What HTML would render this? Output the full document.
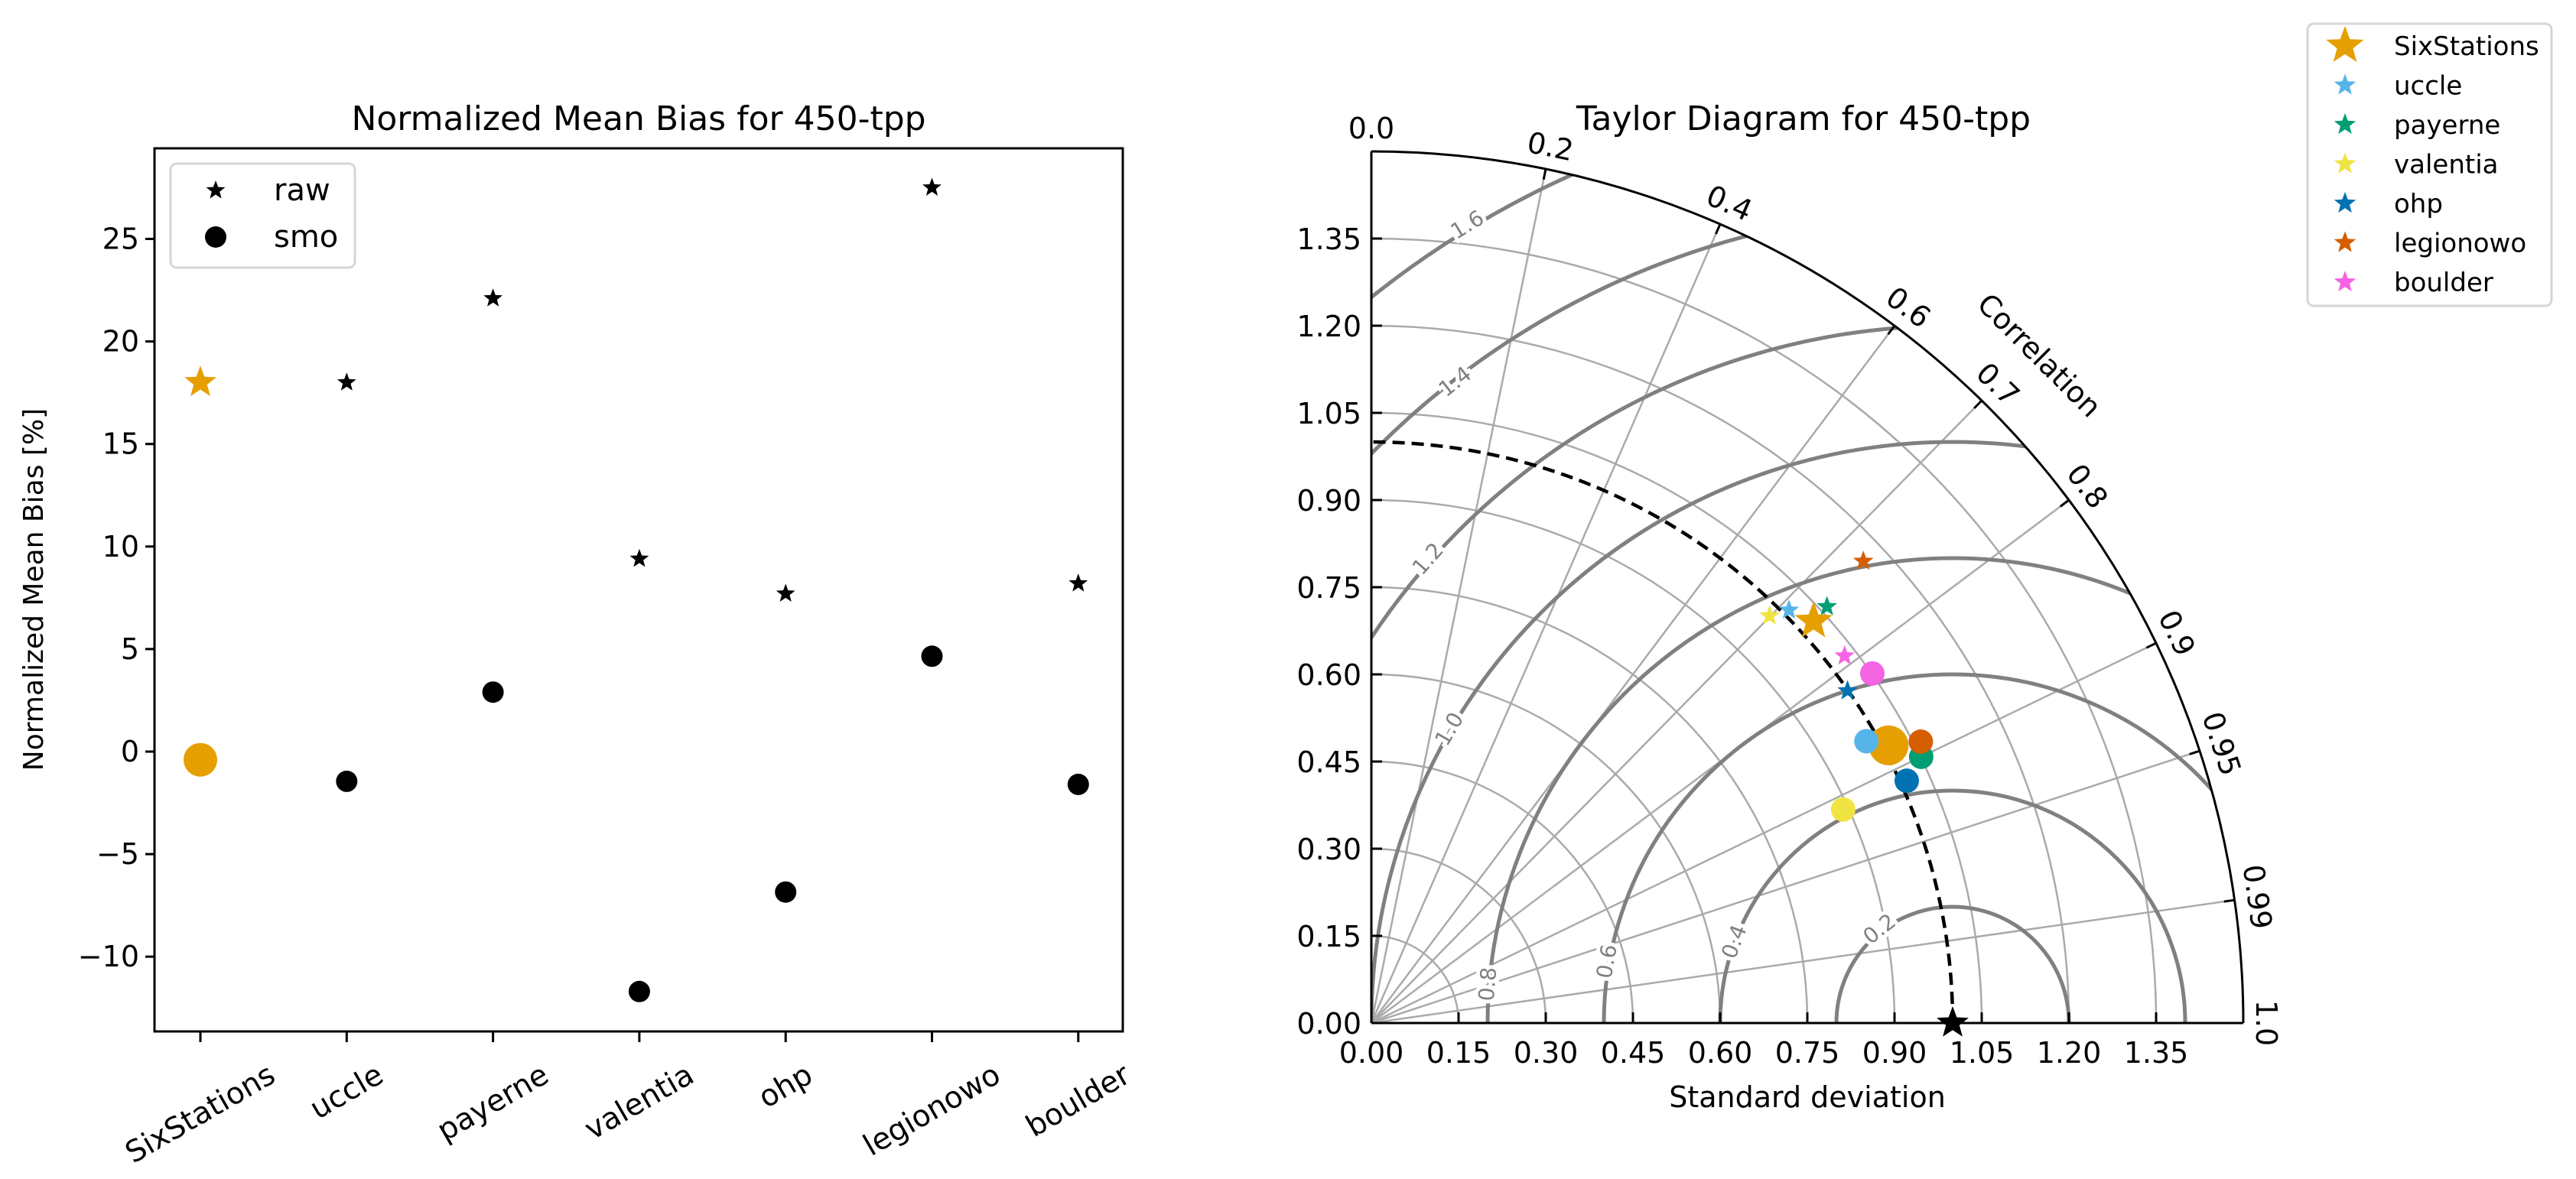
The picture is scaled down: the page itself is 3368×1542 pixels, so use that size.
<!DOCTYPE html>
<html><head><meta charset="utf-8"><style>
html,body{margin:0;background:#fff;width:3368px;height:1542px;overflow:hidden}
svg{display:block;font-family:"DejaVu Sans","Liberation Sans",sans-serif}
</style></head><body>
<svg id="fig" width="3368" height="1542" viewBox="0 0 3368 1542" xmlns="http://www.w3.org/2000/svg" style="overflow:hidden">
<rect width="3368" height="1542" fill="#fff"/>
<defs><clipPath id="qclip"><path d="M1793,1338 L2933,1338 A1140,1140 0 0 0 1793,198 Z"/></clipPath></defs>
<g id="left"></g>
<g id="right"></g>
</svg>
<script>
// ---------- Left chart data ----------
const stations = ["SixStations","uccle","payerne","valentia","ohp","legionowo","boulder"];
const rawBias = [18.0, 18.0, 22.1, 9.4, 7.7, 27.5, 8.2];
const smoBias = [-0.4, -1.45, 2.9, -11.7, -6.85, 4.65, -1.6];
const biasTicks = [-10, -5, 0, 5, 10, 15, 20, 25];
// ---------- Taylor data ----------
const stationColors = ["#E69F00","#56B4E9","#009E73","#F0E442","#0072B2","#D55E00","#F564E3"];
const rawStd = [1.028, 1.0105, 1.062, 0.980, 0.999, 1.161, 1.0305];
const rawCorr = [0.740, 0.711, 0.738, 0.699, 0.820, 0.729, 0.790];
const smoStd = [1.010, 0.980, 1.051, 0.891, 1.011, 1.062, 1.051];
const smoCorr = [0.881, 0.869, 0.900, 0.911, 0.911, 0.890, 0.820];
const stdTicks = [0, 0.15, 0.30, 0.45, 0.60, 0.75, 0.90, 1.05, 1.20, 1.35];
const corrTicks = [0.0, 0.2, 0.4, 0.6, 0.7, 0.8, 0.9, 0.95, 0.99, 1.0];
const corrTickLabels = ["0.0","0.2","0.4","0.6","0.7","0.8","0.9","0.95","0.99","1.0"];
const rmsLevels = [0.2, 0.4, 0.6, 0.8, 1.0, 1.2, 1.4, 1.6];
const rmsLabelPos = [[0.874,0.162],[0.624,0.140],[0.405,0.106],[0.2,0.067],[0.134,0.506],[0.097,0.799],[0.144,1.104],[0.165,1.374]];

const NS="http://www.w3.org/2000/svg";
function mk(parent,tag,attrs,text){const e=document.createElementNS(NS,tag);for(const k in attrs)e.setAttribute(k,attrs[k]);if(text!==undefined)e.textContent=text;parent.appendChild(e);return e;}
function starPath(cx,cy,R){const r=R*0.42;let d="";for(let i=0;i<10;i++){const a=-Math.PI/2+i*Math.PI/5;const rr=i%2?r:R;d+=(i?"L":"M")+(cx+rr*Math.cos(a)).toFixed(1)+","+(cy+rr*Math.sin(a)).toFixed(1);}return d+"Z";}

// ---------- Left chart ----------
const L=document.getElementById('left');
const ax={x0:202,x1:1468,y0:194,y1:1349};
const xS=i=>262+i*191.3;
const yS=v=>983-v*26.82;
let e;
e=mk(L,'text',{x:835,y:170,'text-anchor':'middle','font-size':44},'Normalized Mean Bias for 450-tpp');

e=mk(L,'rect',{x:ax.x0,y:ax.y0,width:ax.x1-ax.x0,height:ax.y1-ax.y0,fill:'none',stroke:'#000','stroke-width':3});

biasTicks.forEach(v=>{const y=yS(v);
 mk(L,'line',{x1:ax.x0-12,x2:ax.x0,y1:y,y2:y,stroke:'#000','stroke-width':3});
 e=mk(L,'text',{x:ax.x0-20,y:y+13,'text-anchor':'end','font-size':38},(v<0?'\u2212'+(-v):''+v));
 });
e=mk(L,'text',{x:0,y:0,'text-anchor':'middle','font-size':36,transform:'translate(56,771) rotate(-90)'},'Normalized Mean Bias [%]');

stations.forEach((s,i)=>{const x=xS(i);
 mk(L,'line',{x1:x,x2:x,y1:ax.y1,y2:ax.y1+14,stroke:'#000','stroke-width':3});
 const t=mk(L,'text',{x:0,y:0,'text-anchor':'middle','dominant-baseline':'central','font-size':39},s);
 
 const w=t.getComputedTextLength();const yc=1385+(w*0.5+39*0.9)/2;
 t.setAttribute('transform','translate('+x+','+yc+') rotate(-30)');
 const c=i===0?stationColors[0]:'#000';
 const st=mk(L,'path',{d:starPath(x,yS(rawBias[i]),i===0?22:13),fill:c});
 
 const cc=mk(L,'circle',{cx:x,cy:yS(smoBias[i]),r:i===0?22:14,fill:c});
 
});
e=mk(L,'rect',{x:223,y:214,width:241,height:136,rx:8,fill:'#fff',stroke:'#d6d6d6','stroke-width':3});

mk(L,'path',{d:starPath(282,249,13),fill:'#000'});
mk(L,'circle',{cx:282,cy:310,r:14,fill:'#000'});
e=mk(L,'text',{x:358,y:262,'font-size':40},'raw');
e=mk(L,'text',{x:358,y:323,'font-size':40},'smo');

// ---------- Taylor ----------
const R=document.getElementById('right');
const ox=1793,oy=1338,U=760,RMAX=1.5;
const px=(x)=>ox+x*U, py=(y)=>oy-y*U;
const polar=(s,c)=>{const th=Math.acos(c);return [px(s*Math.cos(th)),py(s*Math.sin(th))];};
stdTicks.slice(1).forEach(s=>{const r=s*U;
 const a=mk(R,'path',{d:`M${ox+r},${oy} A${r},${r} 0 0 0 ${ox},${oy-r}`,fill:'none',stroke:'#aaa','stroke-width':2.5});
 });
corrTicks.forEach(c=>{if(c<=0||c>=1)return;const [x,y]=polar(RMAX,c);
 const l=mk(R,'line',{x1:ox,y1:oy,x2:x,y2:y,stroke:'#aaa','stroke-width':2.5});
 });
const rg=mk(R,'g',{'clip-path':'url(#qclip)'});
rmsLevels.forEach(r=>{const c=mk(rg,'circle',{cx:px(1),cy:py(0),r:r*U,fill:'none',stroke:'#808080','stroke-width':5});
 });
rmsLevels.forEach((r,i)=>{const [dx,dy]=rmsLabelPos[i];const ang=Math.atan2(dy,dx-1)*180/Math.PI;let rot=-(ang-90);if(rot>90)rot-=180;if(rot<-90)rot+=180;
 const t=mk(R,'text',{x:0,y:0,'text-anchor':'middle','dominant-baseline':'central','font-size':28,fill:'#808080',stroke:'#fff','stroke-width':10,'paint-order':'stroke',transform:`translate(${px(dx)},${py(dy)}) rotate(${rot})`},r.toFixed(1));
 });
e=mk(R,'path',{d:`M${px(1)},${oy} A${U},${U} 0 0 0 ${ox},${py(1)}`,fill:'none',stroke:'#000','stroke-width':4.5,'stroke-dasharray':'16 9'});

mk(R,'line',{x1:ox,y1:oy,x2:px(RMAX),y2:oy,stroke:'#000','stroke-width':3});
mk(R,'line',{x1:ox,y1:oy,x2:ox,y2:py(RMAX),stroke:'#000','stroke-width':3});
e=mk(R,'path',{d:`M${px(RMAX)},${oy} A${RMAX*U},${RMAX*U} 0 0 0 ${ox},${py(RMAX)}`,fill:'none',stroke:'#000','stroke-width':3});

stdTicks.forEach(s=>{
 mk(R,'line',{x1:px(s),x2:px(s),y1:oy,y2:oy-14,stroke:'#000','stroke-width':3});
 mk(R,'line',{x1:ox,x2:ox+14,y1:py(s),y2:py(s),stroke:'#000','stroke-width':3});
 let t=mk(R,'text',{x:px(s),y:oy+52,'text-anchor':'middle','font-size':38},s.toFixed(2));
 
 t=mk(R,'text',{x:ox-13,y:py(s)+14,'text-anchor':'end','font-size':38},s.toFixed(2));
 });
corrTicks.forEach((c,i)=>{const th=Math.acos(c);const co=Math.cos(th),si=Math.sin(th);
 mk(R,'line',{x1:ox+(RMAX*U-14)*co,y1:oy-(RMAX*U-14)*si,x2:ox+RMAX*U*co,y2:oy-RMAX*U*si,stroke:'#000','stroke-width':3});
 const rl=RMAX*U+30;const rot=90-th*180/Math.PI;
 const t=mk(R,'text',{x:0,y:0,'text-anchor':'middle','dominant-baseline':'central','font-size':38,transform:`translate(${ox+rl*co},${oy-rl*si}) rotate(${rot})`},corrTickLabels[i]);
 });
e=mk(R,'text',{x:0,y:0,'text-anchor':'middle','dominant-baseline':'central','font-size':38,transform:`translate(${ox+1235*Math.SQRT1_2},${oy-1235*Math.SQRT1_2}) rotate(45)`},'Correlation');

e=mk(R,'text',{x:2363,y:1448,'text-anchor':'middle','font-size':38},'Standard deviation');

e=mk(R,'text',{x:2358,y:170,'text-anchor':'middle','font-size':44},'Taylor Diagram for 450-tpp');

stations.forEach((s,i)=>{const [x,y]=polar(rawStd[i],rawCorr[i]);
 const st=mk(R,'path',{d:starPath(x,y,i===0?26:14),fill:stationColors[i]});
 });
stations.forEach((s,i)=>{const [x,y]=polar(smoStd[i],smoCorr[i]);
 const c=mk(R,'circle',{cx:x,cy:y,r:i===0?26:16,fill:stationColors[i]});
 });
e=mk(R,'path',{d:starPath(px(1),oy,22),fill:'#000'});

e=mk(R,'rect',{x:3017,y:31,width:319,height:369,rx:8,fill:'#fff',stroke:'#d6d6d6','stroke-width':3});

stations.forEach((s,i)=>{const y=60+i*51.5;
 mk(R,'path',{d:starPath(3066,y,i===0?26:15),fill:stationColors[i]});
 const t=mk(R,'text',{x:3130,y:y+12,'font-size':34},s);
 });
</script>
</body></html>
